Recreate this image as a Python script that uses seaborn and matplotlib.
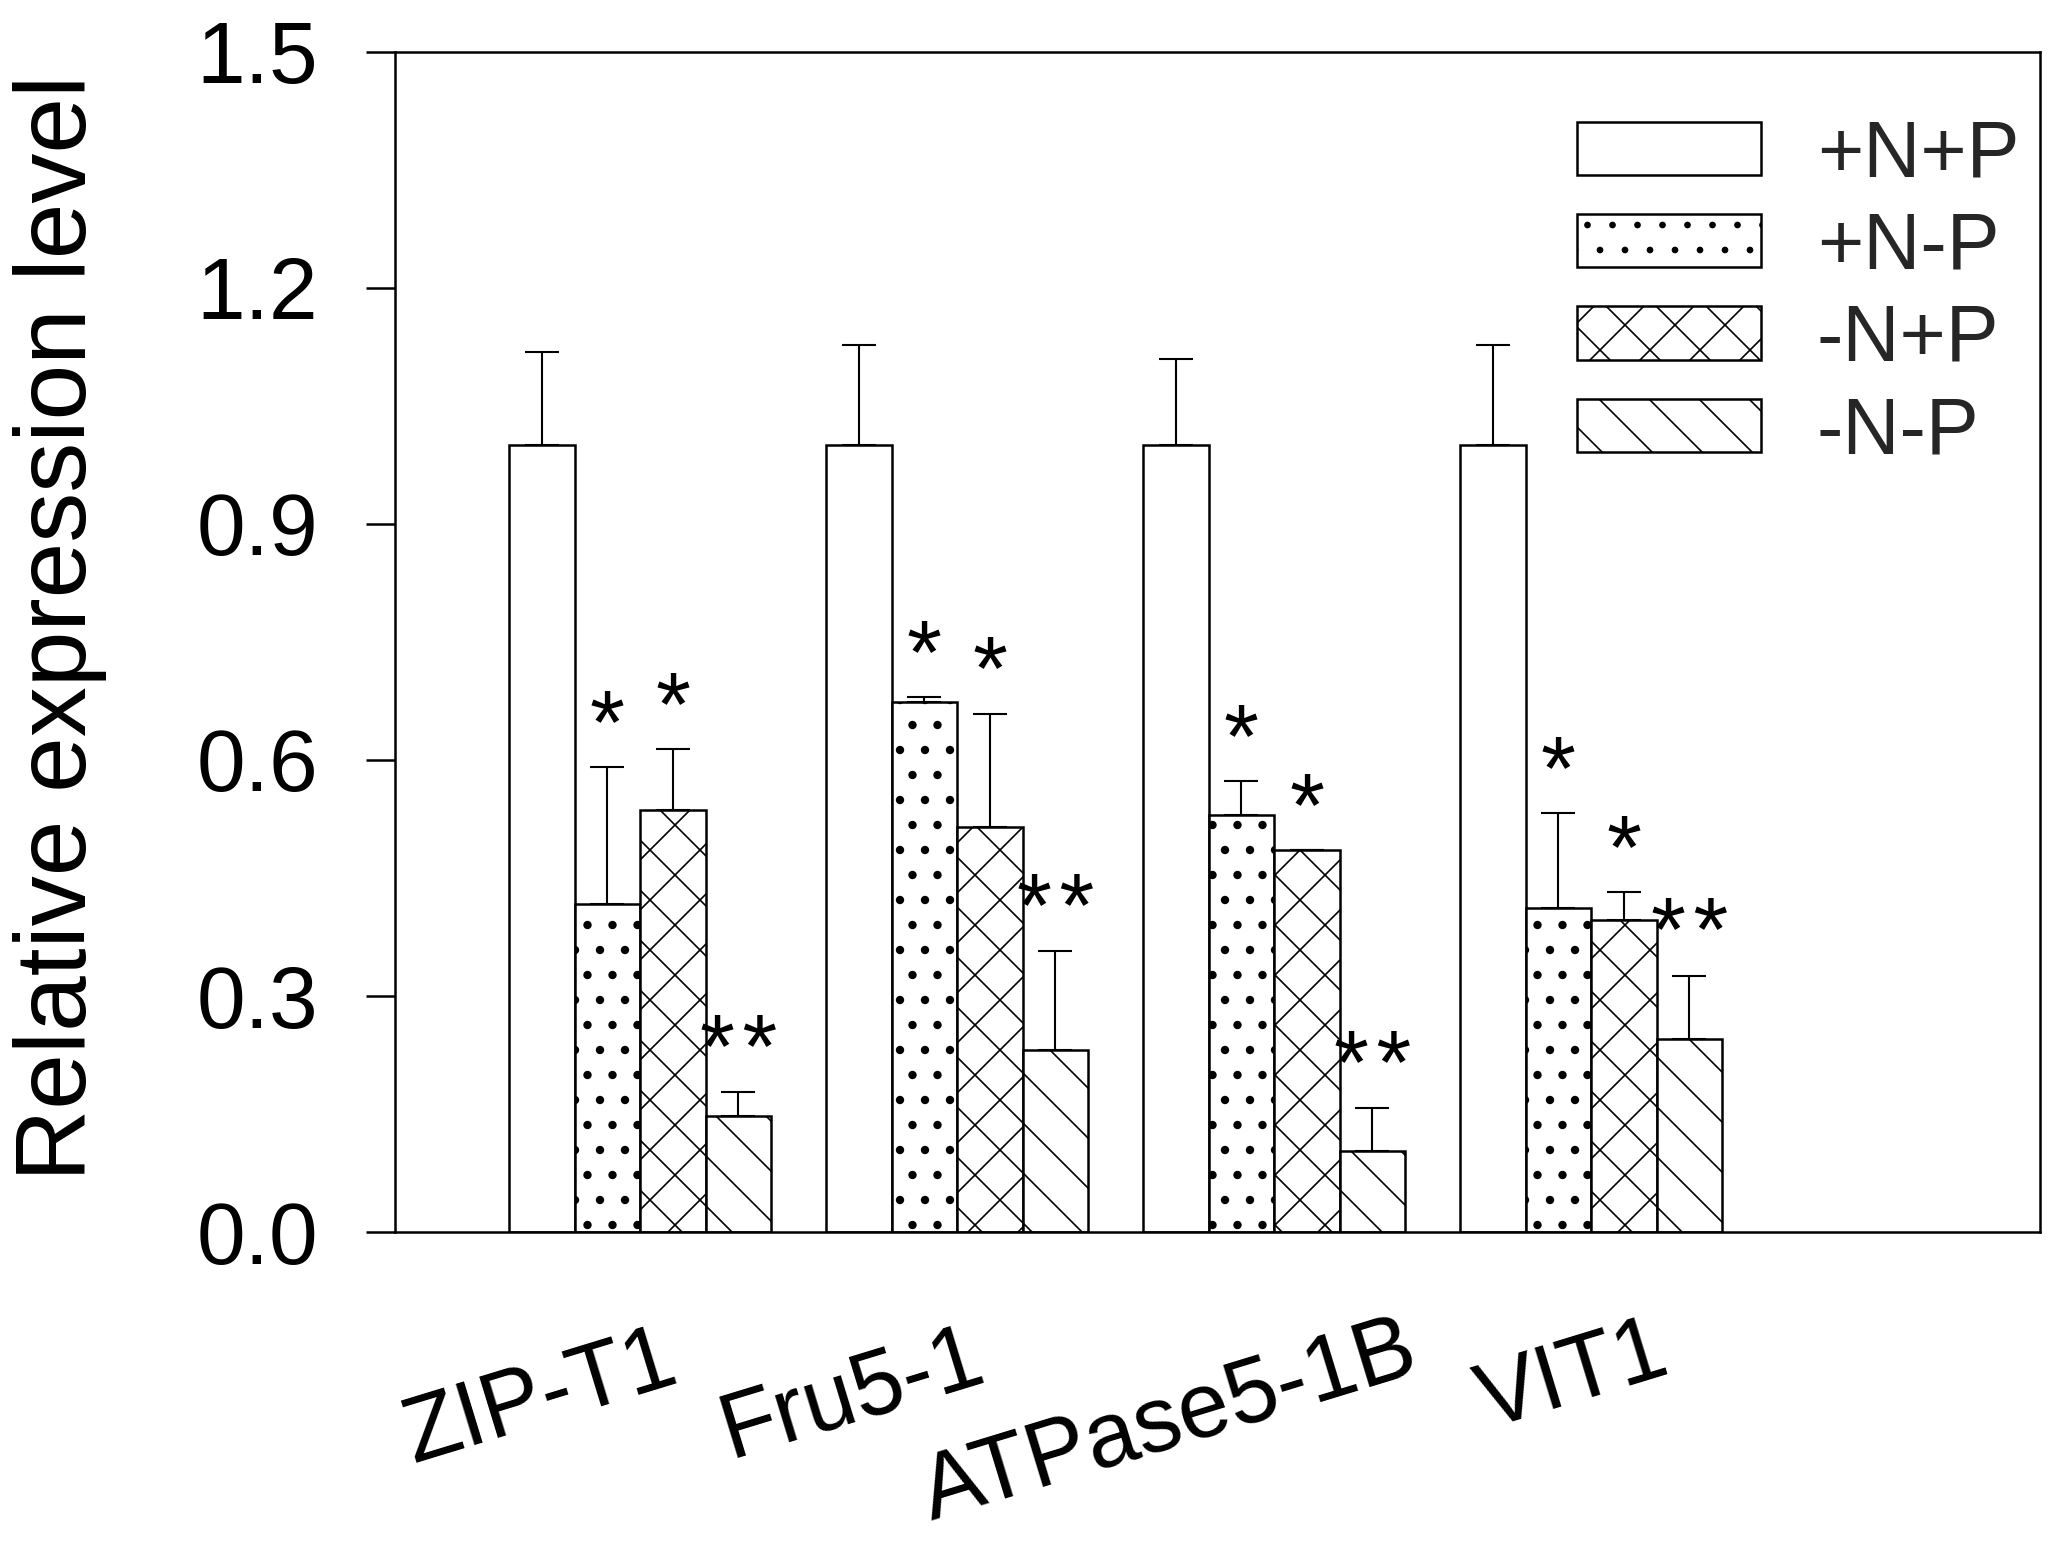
import numpy as np
import pandas as pd
import matplotlib
matplotlib.use("Agg")
import matplotlib.pyplot as plt
from matplotlib.patches import Patch
from matplotlib.transforms import ScaledTranslation
import seaborn as sns

# data
genes = ["ZIP-T1", "Fru5-1", "ATPase5-1B", "VIT1"]
treatments = ["+N+P", "+N-P", "-N+P", "-N-P"]

mean_pp = [1.0, 1.0, 1.0, 1.0]
mean_pm = [0.417, 0.674, 0.530, 0.412]
mean_mp = [0.537, 0.515, 0.485, 0.396]
mean_mm = [0.148, 0.232, 0.103, 0.245]

err_pp = [0.119, 0.128, 0.110, 0.128]
err_pm = [0.174, 0.006, 0.043, 0.121]
err_mp = [0.077, 0.144, 0.0, 0.036]
err_mm = [0.030, 0.125, 0.055, 0.081]

marks_pp = ["", "", "", ""]
marks_pm = ["*", "*", "*", "*"]
marks_mp = ["*", "*", "*", "*"]
marks_mm = ["**", "**", "**", "**"]

means = [mean_pp, mean_pm, mean_mp, mean_mm]
errs = [err_pp, err_pm, err_mp, err_mm]
marks = [marks_pp, marks_pm, marks_mp, marks_mm]
hatches = ["", ".", "x", "\\"]
hatch_lw = [0.8, 1.6, 0.8, 0.8]

rows = []
for t, m in zip(treatments, means):
    for g, v in zip(genes, m):
        rows.append({"gene": g, "treatment": t, "value": v})
df = pd.DataFrame(rows)

sns.set_theme(style="ticks")
plt.rcParams["font.family"] = ["Liberation Sans", "DejaVu Sans"]
plt.rcParams["hatch.linewidth"] = 0.8
plt.rcParams["axes.linewidth"] = 1.2

DPI = 150
fig = plt.figure(figsize=(2047 / DPI, 1541 / DPI), dpi=DPI)
ax = fig.add_axes([0.193, 0.2005, 0.8036, 0.7658])

sns.barplot(data=df, x="gene", y="value", hue="treatment", order=genes,
            hue_order=treatments, palette=["white"] * 4, edgecolor="black",
            linewidth=1.2, width=0.826, errorbar=None, legend=False, ax=ax)


def style_hatch(p, h, lw):
    p.set_hatch(h)
    if hasattr(p, "set_hatch_linewidth"):
        p.set_hatch_linewidth(lw)


for cont, h, hl, e, mk in zip(ax.containers, hatches, hatch_lw, errs, marks):
    xs, tops = [], []
    for bar in cont:
        style_hatch(bar, h, hl)
        xs.append(bar.get_x() + bar.get_width() / 2)
        tops.append(bar.get_height())
    ax.errorbar(xs, tops, yerr=[np.zeros(len(e)), e], fmt="none",
                ecolor="black", elinewidth=1.0, capsize=8, capthick=1.0)
    for x, t, ee, s in zip(xs, tops, e, mk):
        if s:
            ax.text(x, t + ee + 0.018, "\u200a".join(s), ha="center",
                    va="baseline", fontsize=43, color="black")

ax.set_xlim(-0.773, 4.416)
ax.set_ylim(0, 1.5)
ax.set_yticks([0.0, 0.3, 0.6, 0.9, 1.2, 1.5])
ax.set_yticklabels(["0.0", "0.3", "0.6", "0.9", "1.2", "1.5"])
for s in ax.spines.values():
    s.set_visible(True)
    s.set_color("black")
    s.set_linewidth(1.2)

ax.tick_params(axis="y", direction="out", length=14, width=1.2, pad=23,
               labelsize=42, colors="black")
ax.tick_params(axis="x", length=0, pad=80, labelsize=44, colors="black")
ax.set_xlabel("")
ax.set_ylabel("Relative expression level", fontsize=48, color="black")
ax.yaxis.set_label_coords(-0.175, 0.512)

# shift the slanted gene labels
shifts = [(-100, 0), (-105, 3), (-104, -24), (-18, 21)]
for lab, (dx, dy) in zip(ax.get_xticklabels(), shifts):
    lab.set_rotation(17)
    lab.set_rotation_mode("anchor")
    lab.set_ha("center")
    lab.set_va("center")
    lab.set_transform(lab.get_transform()
                      + ScaledTranslation(dx / DPI, dy / DPI, fig.dpi_scale_trans))

handles = []
for h, hl in zip(hatches, hatch_lw):
    p = Patch(facecolor="white", edgecolor="black", linewidth=1.2)
    style_hatch(p, h, hl)
    handles.append(p)
ax.legend(handles, treatments, loc="upper left", bbox_to_anchor=(0.7704, 0.9234),
          bbox_transform=fig.transFigure, frameon=False, fontsize=38,
          handlelength=2.33, handleheight=0.66, handletextpad=0.7,
          labelspacing=0.22, borderpad=0, borderaxespad=0)

fig.savefig("out.png", dpi=DPI, facecolor="white")
